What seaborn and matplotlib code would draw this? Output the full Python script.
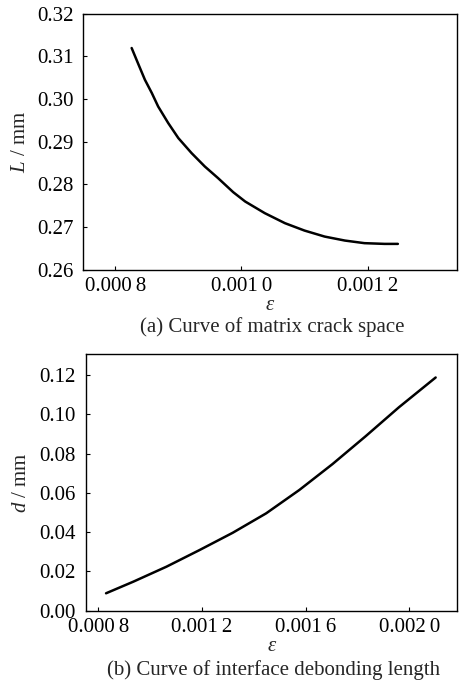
import matplotlib
matplotlib.use("Agg")
import matplotlib.pyplot as plt
import seaborn as sns
import pandas as pd

# ---- data ----
# (a) matrix crack space L vs strain
eps_a = [0.000826, 0.000837, 0.000847, 0.000858, 0.000868, 0.000884, 0.000900,
         0.000921, 0.000942, 0.000963, 0.000987, 0.001006, 0.001037, 0.001069,
         0.001100, 0.001132, 0.001164, 0.001195, 0.001227, 0.001248]
L_a = [0.31196, 0.30805, 0.30453, 0.30141, 0.29827, 0.29438, 0.29087,
       0.28735, 0.28421, 0.28149, 0.27820, 0.27601, 0.27329, 0.27094,
       0.26921, 0.26780, 0.26687, 0.26626, 0.26609, 0.26609]

# (b) interface debonding length d vs strain
eps_b = [0.000830, 0.000935, 0.001063, 0.001191, 0.001319, 0.001448,
         0.001576, 0.001704, 0.001832, 0.001960, 0.002102]
d_b = [0.00886, 0.01476, 0.0224, 0.0309, 0.0397, 0.0496,
       0.0615, 0.0747, 0.0889, 0.1036, 0.1188]

xticks_a = [0.0008, 0.0010, 0.0012]
xlabels_a = ["0.000\u20098", "0.001\u20090", "0.001\u20092"]
yticks_a = [0.26, 0.27, 0.28, 0.29, 0.30, 0.31, 0.32]

xticks_b = [0.0008, 0.0012, 0.0016, 0.0020]
xlabels_b = ["0.000\u20098", "0.001\u20092", "0.001\u20096", "0.002\u20090"]
yticks_b = [0.00, 0.02, 0.04, 0.06, 0.08, 0.10, 0.12]

sns.set_style("ticks")
plt.rcParams["font.family"] = ["Liberation Serif", "DejaVu Serif"]
plt.rcParams["mathtext.fontset"] = "custom"
plt.rcParams["mathtext.rm"] = "Liberation Serif"
plt.rcParams["mathtext.it"] = "Liberation Serif:italic"

FS = 15
fig = plt.figure(figsize=(4.59, 6.85), dpi=100)
ax1 = fig.add_axes([0.181, 0.606, 0.815, 0.374])
ax2 = fig.add_axes([0.187, 0.1085, 0.809, 0.3745])


def style(ax, xt, xl, yt):
    ax.set_xticks(xt)
    ax.set_xticklabels(xl)
    ax.set_yticks(yt)
    ax.set_yticklabels([f"{v:.2f}" for v in yt])
    ax.tick_params(direction="in", length=3, width=0.8, labelsize=FS,
                   colors="black")
    ax.tick_params(axis="x", pad=5)
    ax.tick_params(axis="y", pad=7)
    for s in ax.spines.values():
        s.set_linewidth(1.0)
        s.set_color("black")
        s.set_visible(True)


df_a = pd.DataFrame({"eps": eps_a, "L": L_a})
sns.lineplot(data=df_a, x="eps", y="L", ax=ax1, color="black", linewidth=1.8)
ax1.set_xlim(0.000749, 0.001342)
ax1.set_ylim(0.26, 0.32)
style(ax1, xticks_a, xlabels_a, yticks_a)
ax1.set_xlabel("ε", fontsize=FS, fontstyle="italic", labelpad=0)
ax1.set_ylabel("$L$ / mm", fontsize=FS, labelpad=5)
fig.text(0.593, 0.523, "(a) Curve of matrix crack space", fontsize=FS,
         ha="center", va="center")

df_b = pd.DataFrame({"eps": eps_b, "d": d_b})
sns.lineplot(data=df_b, x="eps", y="d", ax=ax2, color="black", linewidth=1.8)
ax2.set_xlim(0.000752, 0.002185)
ax2.set_ylim(0.0, 0.1307)
style(ax2, xticks_b, xlabels_b, yticks_b)
ax2.set_xlabel("ε", fontsize=FS, fontstyle="italic", labelpad=0)
ax2.set_ylabel("$d$ / mm", fontsize=FS, labelpad=6)
fig.text(0.596, 0.022, "(b) Curve of interface debonding length", fontsize=FS,
         ha="center", va="center")

fig.savefig("out.png", dpi=100, facecolor="white")
